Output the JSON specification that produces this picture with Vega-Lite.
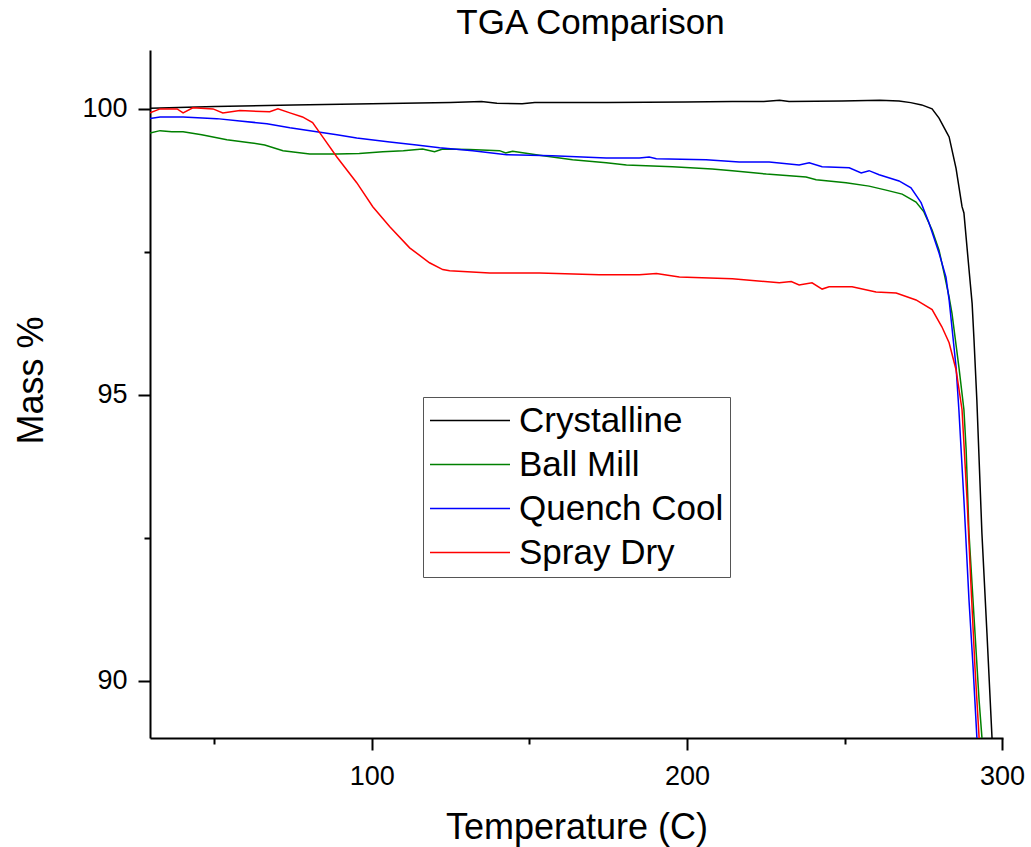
{
  "$schema": "https://vega.github.io/schema/vega-lite/v6.json",
  "width": 853,
  "height": 688,
  "autosize": {"type": "none"},
  "padding": {"left": 150, "top": 50, "right": 28, "bottom": 109},
  "background": "white",
  "view": {"stroke": null},
  "title": {"text": "TGA Comparison", "fontSize": 35, "font": "Liberation Sans", "fontWeight": "normal", "color": "black", "anchor": "middle", "frame": "group", "baseline": "alphabetic", "offset": 14, "dx": 14, "dy": 33},
  "data": {"values": [
    {"series":"Crystalline","temp":29.8,"mass":100.01},{"series":"Crystalline","temp":50.2,"mass":100.04},{"series":"Crystalline","temp":75.1,"mass":100.07},{"series":"Crystalline","temp":100.0,"mass":100.09},{"series":"Crystalline","temp":124.9,"mass":100.11},{"series":"Crystalline","temp":134.8,"mass":100.13},{"series":"Crystalline","temp":139.7,"mass":100.10},{"series":"Crystalline","temp":147.7,"mass":100.09},{"series":"Crystalline","temp":151.7,"mass":100.11},{"series":"Crystalline","temp":174.6,"mass":100.11},{"series":"Crystalline","temp":199.5,"mass":100.12},{"series":"Crystalline","temp":214.4,"mass":100.13},{"series":"Crystalline","temp":224.4,"mass":100.13},{"series":"Crystalline","temp":229.4,"mass":100.15},{"series":"Crystalline","temp":232.4,"mass":100.13},{"series":"Crystalline","temp":249.2,"mass":100.14},{"series":"Crystalline","temp":261.2,"mass":100.15},{"series":"Crystalline","temp":267.3,"mass":100.14},{"series":"Crystalline","temp":271.0,"mass":100.11},{"series":"Crystalline","temp":274.5,"mass":100.07},{"series":"Crystalline","temp":277.8,"mass":100.0},{"series":"Crystalline","temp":280.0,"mass":99.84},{"series":"Crystalline","temp":282.5,"mass":99.58},{"series":"Crystalline","temp":283.2,"mass":99.51},{"series":"Crystalline","temp":285.4,"mass":98.96},{"series":"Crystalline","temp":287.3,"mass":98.29},{"series":"Crystalline","temp":287.9,"mass":98.18},{"series":"Crystalline","temp":289.5,"mass":97.2},{"series":"Crystalline","temp":290.5,"mass":96.6},{"series":"Crystalline","temp":291.1,"mass":95.96},{"series":"Crystalline","temp":292.0,"mass":94.91},{"series":"Crystalline","temp":293.6,"mass":92.59},{"series":"Crystalline","temp":295.2,"mass":90.84},{"series":"Crystalline","temp":296.8,"mass":89.02},{"series":"Crystalline","temp":297.3,"mass":88.4},

    {"series":"Ball Mill","temp":29.6,"mass":99.58},{"series":"Ball Mill","temp":32.8,"mass":99.62},{"series":"Ball Mill","temp":36.5,"mass":99.60},{"series":"Ball Mill","temp":40.1,"mass":99.60},{"series":"Ball Mill","temp":46.0,"mass":99.55},{"series":"Ball Mill","temp":54.0,"mass":99.46},{"series":"Ball Mill","temp":61.3,"mass":99.41},{"series":"Ball Mill","temp":66.0,"mass":99.37},{"series":"Ball Mill","temp":71.8,"mass":99.27},{"series":"Ball Mill","temp":80.3,"mass":99.21},{"series":"Ball Mill","temp":88.9,"mass":99.21},{"series":"Ball Mill","temp":96.0,"mass":99.22},{"series":"Ball Mill","temp":103.5,"mass":99.25},{"series":"Ball Mill","temp":110.0,"mass":99.27},{"series":"Ball Mill","temp":116.1,"mass":99.30},{"series":"Ball Mill","temp":119.9,"mass":99.25},{"series":"Ball Mill","temp":122.5,"mass":99.30},{"series":"Ball Mill","temp":131.0,"mass":99.29},{"series":"Ball Mill","temp":140.5,"mass":99.27},{"series":"Ball Mill","temp":142.5,"mass":99.23},{"series":"Ball Mill","temp":144.7,"mass":99.26},{"series":"Ball Mill","temp":153.2,"mass":99.19},{"series":"Ball Mill","temp":163.7,"mass":99.11},{"series":"Ball Mill","temp":174.4,"mass":99.06},{"series":"Ball Mill","temp":180.8,"mass":99.02},{"series":"Ball Mill","temp":195.4,"mass":98.99},{"series":"Ball Mill","temp":208.0,"mass":98.95},{"series":"Ball Mill","temp":214.4,"mass":98.92},{"series":"Ball Mill","temp":225.2,"mass":98.86},{"series":"Ball Mill","temp":237.8,"mass":98.81},{"series":"Ball Mill","temp":241.0,"mass":98.76},{"series":"Ball Mill","temp":250.5,"mass":98.71},{"series":"Ball Mill","temp":257.8,"mass":98.65},{"series":"Ball Mill","temp":263.2,"mass":98.58},{"series":"Ball Mill","temp":268.3,"mass":98.51},{"series":"Ball Mill","temp":272.7,"mass":98.37},{"series":"Ball Mill","temp":275.2,"mass":98.20},{"series":"Ball Mill","temp":277.8,"mass":97.88},{"series":"Ball Mill","temp":280.0,"mass":97.53},{"series":"Ball Mill","temp":281.6,"mass":97.13},{"series":"Ball Mill","temp":283.2,"mass":96.71},{"series":"Ball Mill","temp":284.1,"mass":96.43},{"series":"Ball Mill","temp":286.3,"mass":95.49},{"series":"Ball Mill","temp":287.9,"mass":94.74},{"series":"Ball Mill","temp":288.6,"mass":94.04},{"series":"Ball Mill","temp":289.5,"mass":92.59},{"series":"Ball Mill","temp":291.1,"mass":91.12},{"series":"Ball Mill","temp":292.7,"mass":89.67},{"series":"Ball Mill","temp":293.6,"mass":89.02},{"series":"Ball Mill","temp":294.0,"mass":88.4},

    {"series":"Quench Cool","temp":29.6,"mass":99.83},{"series":"Quench Cool","temp":32.8,"mass":99.86},{"series":"Quench Cool","temp":40.1,"mass":99.86},{"series":"Quench Cool","temp":50.8,"mass":99.83},{"series":"Quench Cool","temp":58.1,"mass":99.79},{"series":"Quench Cool","temp":66.7,"mass":99.74},{"series":"Quench Cool","temp":74.0,"mass":99.67},{"series":"Quench Cool","temp":82.5,"mass":99.60},{"series":"Quench Cool","temp":88.9,"mass":99.55},{"series":"Quench Cool","temp":95.2,"mass":99.49},{"series":"Quench Cool","temp":105.7,"mass":99.42},{"series":"Quench Cool","temp":114.2,"mass":99.37},{"series":"Quench Cool","temp":121.5,"mass":99.32},{"series":"Quench Cool","temp":132.0,"mass":99.27},{"series":"Quench Cool","temp":142.8,"mass":99.20},{"series":"Quench Cool","temp":157.3,"mass":99.18},{"series":"Quench Cool","temp":174.4,"mass":99.14},{"series":"Quench Cool","temp":184.9,"mass":99.14},{"series":"Quench Cool","temp":188.0,"mass":99.16},{"series":"Quench Cool","temp":190.3,"mass":99.13},{"series":"Quench Cool","temp":206.1,"mass":99.11},{"series":"Quench Cool","temp":216.6,"mass":99.07},{"series":"Quench Cool","temp":226.1,"mass":99.07},{"series":"Quench Cool","temp":235.6,"mass":99.02},{"series":"Quench Cool","temp":238.8,"mass":99.06},{"series":"Quench Cool","temp":242.9,"mass":98.99},{"series":"Quench Cool","temp":251.5,"mass":98.97},{"series":"Quench Cool","temp":255.3,"mass":98.88},{"series":"Quench Cool","temp":257.8,"mass":98.92},{"series":"Quench Cool","temp":261.0,"mass":98.85},{"series":"Quench Cool","temp":267.3,"mass":98.74},{"series":"Quench Cool","temp":271.1,"mass":98.62},{"series":"Quench Cool","temp":274.3,"mass":98.36},{"series":"Quench Cool","temp":276.8,"mass":98.01},{"series":"Quench Cool","temp":280.0,"mass":97.48},{"series":"Quench Cool","temp":282.2,"mass":97.06},{"series":"Quench Cool","temp":283.2,"mass":96.66},{"series":"Quench Cool","temp":285.4,"mass":95.49},{"series":"Quench Cool","temp":286.3,"mass":94.74},{"series":"Quench Cool","temp":287.9,"mass":93.16},{"series":"Quench Cool","temp":289.5,"mass":91.42},{"series":"Quench Cool","temp":290.8,"mass":90.24},{"series":"Quench Cool","temp":292.0,"mass":89.02},{"series":"Quench Cool","temp":292.4,"mass":88.4},

    {"series":"Spray Dry","temp":29.6,"mass":99.93},{"series":"Spray Dry","temp":32.8,"mass":100.0},{"series":"Spray Dry","temp":38.2,"mass":100.0},{"series":"Spray Dry","temp":40.1,"mass":99.93},{"series":"Spray Dry","temp":43.2,"mass":100.02},{"series":"Spray Dry","temp":49.6,"mass":100.0},{"series":"Spray Dry","temp":52.7,"mass":99.93},{"series":"Spray Dry","temp":58.1,"mass":99.97},{"series":"Spray Dry","temp":67.6,"mass":99.95},{"series":"Spray Dry","temp":70.2,"mass":100.0},{"series":"Spray Dry","temp":74.0,"mass":99.93},{"series":"Spray Dry","temp":78.0,"mass":99.86},{"series":"Spray Dry","temp":81.2,"mass":99.76},{"series":"Spray Dry","temp":84.4,"mass":99.51},{"series":"Spray Dry","temp":88.9,"mass":99.16},{"series":"Spray Dry","temp":95.2,"mass":98.71},{"series":"Spray Dry","temp":100.3,"mass":98.29},{"series":"Spray Dry","temp":105.7,"mass":97.94},{"series":"Spray Dry","temp":112.0,"mass":97.57},{"series":"Spray Dry","temp":118.3,"mass":97.31},{"series":"Spray Dry","temp":122.5,"mass":97.19},{"series":"Spray Dry","temp":124.7,"mass":97.17},{"series":"Spray Dry","temp":137.4,"mass":97.13},{"series":"Spray Dry","temp":153.2,"mass":97.13},{"series":"Spray Dry","temp":172.2,"mass":97.10},{"series":"Spray Dry","temp":184.9,"mass":97.10},{"series":"Spray Dry","temp":190.3,"mass":97.12},{"series":"Spray Dry","temp":197.6,"mass":97.06},{"series":"Spray Dry","temp":214.4,"mass":97.03},{"series":"Spray Dry","temp":229.3,"mass":96.96},{"series":"Spray Dry","temp":233.1,"mass":96.98},{"series":"Spray Dry","temp":235.6,"mass":96.92},{"series":"Spray Dry","temp":239.7,"mass":96.96},{"series":"Spray Dry","temp":242.9,"mass":96.85},{"series":"Spray Dry","temp":245.1,"mass":96.89},{"series":"Spray Dry","temp":252.4,"mass":96.89},{"series":"Spray Dry","temp":260.0,"mass":96.80},{"series":"Spray Dry","temp":266.4,"mass":96.78},{"series":"Spray Dry","temp":272.7,"mass":96.66},{"series":"Spray Dry","temp":277.8,"mass":96.49},{"series":"Spray Dry","temp":280.9,"mass":96.19},{"series":"Spray Dry","temp":283.2,"mass":95.91},{"series":"Spray Dry","temp":285.4,"mass":95.44},{"series":"Spray Dry","temp":287.3,"mass":94.74},{"series":"Spray Dry","temp":288.9,"mass":93.16},{"series":"Spray Dry","temp":290.1,"mass":91.71},{"series":"Spray Dry","temp":291.4,"mass":90.24},{"series":"Spray Dry","temp":292.7,"mass":89.02},{"series":"Spray Dry","temp":293.0,"mass":88.4}
  ]},
  "mark": {"type": "line", "strokeWidth": 1.5, "clip": true},
  "encoding": {
    "x": {
      "field": "temp", "type": "quantitative",
      "scale": {"domain": [29.6, 300.3], "nice": false, "zero": false},
      "axis": {
        "title": "Temperature (C)",
        "values": [50, 100, 150, 200, 250, 300],
        "labelExpr": "datum.value % 100 === 0 ? format(datum.value, 'd') : ''",
        "tickSize": {"condition": {"test": "datum.value % 100 !== 0", "value": 6}, "value": 12},
        "grid": false, "labelFlush": false, "labelOverlap": false,
        "domainColor": "black", "domainWidth": 2, "tickColor": "black", "tickWidth": 2,
        "labelFont": "Liberation Sans", "labelFontSize": 27, "labelColor": "black", "labelPadding": 13,
        "titleFont": "Liberation Sans", "titleFontSize": 36, "titleFontWeight": "normal", "titleColor": "black",
        "titleY": 100, "titleBaseline": "alphabetic"
      }
    },
    "y": {
      "field": "mass", "type": "quantitative",
      "scale": {"domain": [89, 101.03], "nice": false, "zero": false},
      "axis": {
        "title": "Mass %",
        "values": [90, 92.5, 95, 97.5, 100],
        "labelExpr": "datum.value % 5 === 0 ? format(datum.value, 'd') : ''",
        "tickSize": {"condition": {"test": "datum.value % 5 !== 0", "value": 6}, "value": 12},
        "grid": false, "labelOverlap": false, "labelFlush": false,
        "domainColor": "black", "domainWidth": 2, "tickColor": "black", "tickWidth": 2,
        "labelFont": "Liberation Sans", "labelFontSize": 27, "labelColor": "black", "labelPadding": 11,
        "titleFont": "Liberation Sans", "titleFontSize": 36, "titleFontWeight": "normal", "titleColor": "black",
        "titleX": -108, "titleY": 330, "titleBaseline": "alphabetic", "titleAngle": -90
      }
    },
    "color": {
      "field": "series", "type": "nominal",
      "sort": ["Crystalline", "Ball Mill", "Quench Cool", "Spray Dry"],
      "scale": {"domain": ["Crystalline", "Ball Mill", "Quench Cool", "Spray Dry"], "range": ["#000000", "#008000", "#0000ff", "#ff0000"]},
      "legend": {
        "title": null, "orient": "none", "legendX": 273, "legendY": 347,
        "symbolType": "stroke", "symbolSize": 6400, "symbolStrokeWidth": 1.5,
        "labelFont": "Liberation Sans", "labelFontSize": 35, "labelColor": "black", "labelOffset": 8, "labelLimit": 400,
        "strokeColor": "#555555", "fillColor": "white", "padding": 6, "rowPadding": 8, "clipHeight": 35
      }
    }
  }
}
